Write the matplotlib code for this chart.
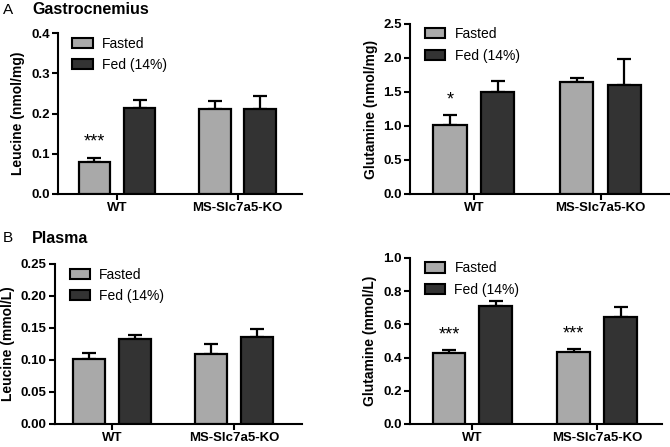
import matplotlib
matplotlib.use("Agg")
import matplotlib.pyplot as plt
from matplotlib.patches import Patch
import numpy as np

plt.rcParams['font.family'] = ['Liberation Sans', 'DejaVu Sans']

groups = ["WT", "MS-Slc7a5-KO"]
series = ["Fasted", "Fed (14%)"]

gastro_leu_fasted = [0.080, 0.212]
gastro_leu_fasted_err = [0.010, 0.020]
gastro_leu_fed = [0.213, 0.210]
gastro_leu_fed_err = [0.020, 0.033]

gastro_gln_fasted = [1.015, 1.64]
gastro_gln_fasted_err = [0.14, 0.065]
gastro_gln_fed = [1.50, 1.60]
gastro_gln_fed_err = [0.165, 0.385]

plasma_leu_fasted = [0.102, 0.110]
plasma_leu_fasted_err = [0.009, 0.015]
plasma_leu_fed = [0.133, 0.136]
plasma_leu_fed_err = [0.0065, 0.013]

plasma_gln_fasted = [0.425, 0.431]
plasma_gln_fasted_err = [0.018, 0.018]
plasma_gln_fed = [0.709, 0.645]
plasma_gln_fed_err = [0.030, 0.060]

W, H = 670, 447
fig = plt.figure(figsize=(W/100, H/100), dpi=100)

def px_axes(x0, x1, ytop, ybot):
    return fig.add_axes([x0/W, (H-ybot)/H, (x1-x0)/W, (ybot-ytop)/H])

c_fast = "#a9a9a9"
c_fed = "#333333"

def panel(ax, fasted, ferr, fed, ederr, ymax, ystep, ylabel, fmt, stars, xlim):
    x = np.arange(len(groups))
    off, bw = 0.188, 0.262
    for vals, errs, col, sgn in [(fasted, ferr, c_fast, -1), (fed, ederr, c_fed, 1)]:
        ax.bar(x + sgn*off, vals, width=bw, color=col, edgecolor="black",
               linewidth=1.6, zorder=3)
        ax.errorbar(x + sgn*off, vals, yerr=[np.zeros(len(vals)), errs], fmt="none",
                    ecolor="black", elinewidth=1.6, capsize=5, capthick=1.6, zorder=2)
    for i, s in enumerate(stars):
        if s:
            ax.annotate(s, (x[i]-off, fasted[i]+ferr[i]), xytext=(0, 5),
                        textcoords="offset points", ha="center", va="bottom",
                        fontsize=13)
    ax.set_ylim(0, ymax)
    ax.set_xlim(*xlim)
    ticks = np.arange(0, ymax + ystep/2, ystep)
    ax.set_yticks(ticks)
    ax.set_yticklabels([fmt.format(t) for t in ticks], fontweight="bold", fontsize=9.5)
    ax.set_xticks(x)
    ax.set_xticklabels(groups, fontweight="bold", fontsize=9.5)
    ax.set_ylabel(ylabel, fontweight="bold", fontsize=10, labelpad=4)
    for sp in ["top", "right"]:
        ax.spines[sp].set_visible(False)
    for sp in ["left", "bottom"]:
        ax.spines[sp].set_linewidth(1.5)
    ax.tick_params(width=1.5, length=4, pad=2)
    handles = [Patch(facecolor=c_fast, edgecolor="black", linewidth=1.5),
               Patch(facecolor=c_fed, edgecolor="black", linewidth=1.5)]
    ax.legend(handles, series, loc="upper left", bbox_to_anchor=(0.025, 1.03),
              frameon=False, fontsize=10, handlelength=1.45, handleheight=0.75,
              labelspacing=0.55, handletextpad=0.7, borderaxespad=0.2)

ax1 = px_axes(58, 302, 33, 194)
panel(ax1, gastro_leu_fasted, gastro_leu_fasted_err, gastro_leu_fed, gastro_leu_fed_err,
      0.4, 0.1, "Leucine (nmol/mg)", "{:.1f}", ["***", ""], (-0.49, 1.535))

ax2 = px_axes(410, 669, 24, 194)
panel(ax2, gastro_gln_fasted, gastro_gln_fasted_err, gastro_gln_fed, gastro_gln_fed_err,
      2.5, 0.5, "Glutamine (nmol/mg)", "{:.1f}", ["*", ""], (-0.504, 1.54))

ax3 = px_axes(55, 302, 264, 424)
panel(ax3, plasma_leu_fasted, plasma_leu_fasted_err, plasma_leu_fed, plasma_leu_fed_err,
      0.25, 0.05, "Leucine (mmol/L)", "{:.2f}", ["", ""], (-0.47, 1.555))

ax4 = px_axes(410, 662, 258, 424)
panel(ax4, plasma_gln_fasted, plasma_gln_fasted_err, plasma_gln_fed, plasma_gln_fed_err,
      1.0, 0.2, "Glutamine (mmol/L)", "{:.1f}", ["***", "***"], (-0.5, 1.52))

fig.text(3/W, 1 - 10/H, "A", fontsize=11, va="center", ha="left")
fig.text(32/W, 1 - 10/H, "Gastrocnemius", fontsize=11.5, fontweight="bold", va="center", ha="left")
fig.text(3/W, 1 - 238/H, "B", fontsize=11, va="center", ha="left")
fig.text(32/W, 1 - 238/H, "Plasma", fontsize=11.5, fontweight="bold", va="center", ha="left")

fig.savefig("out.png", dpi=100)
